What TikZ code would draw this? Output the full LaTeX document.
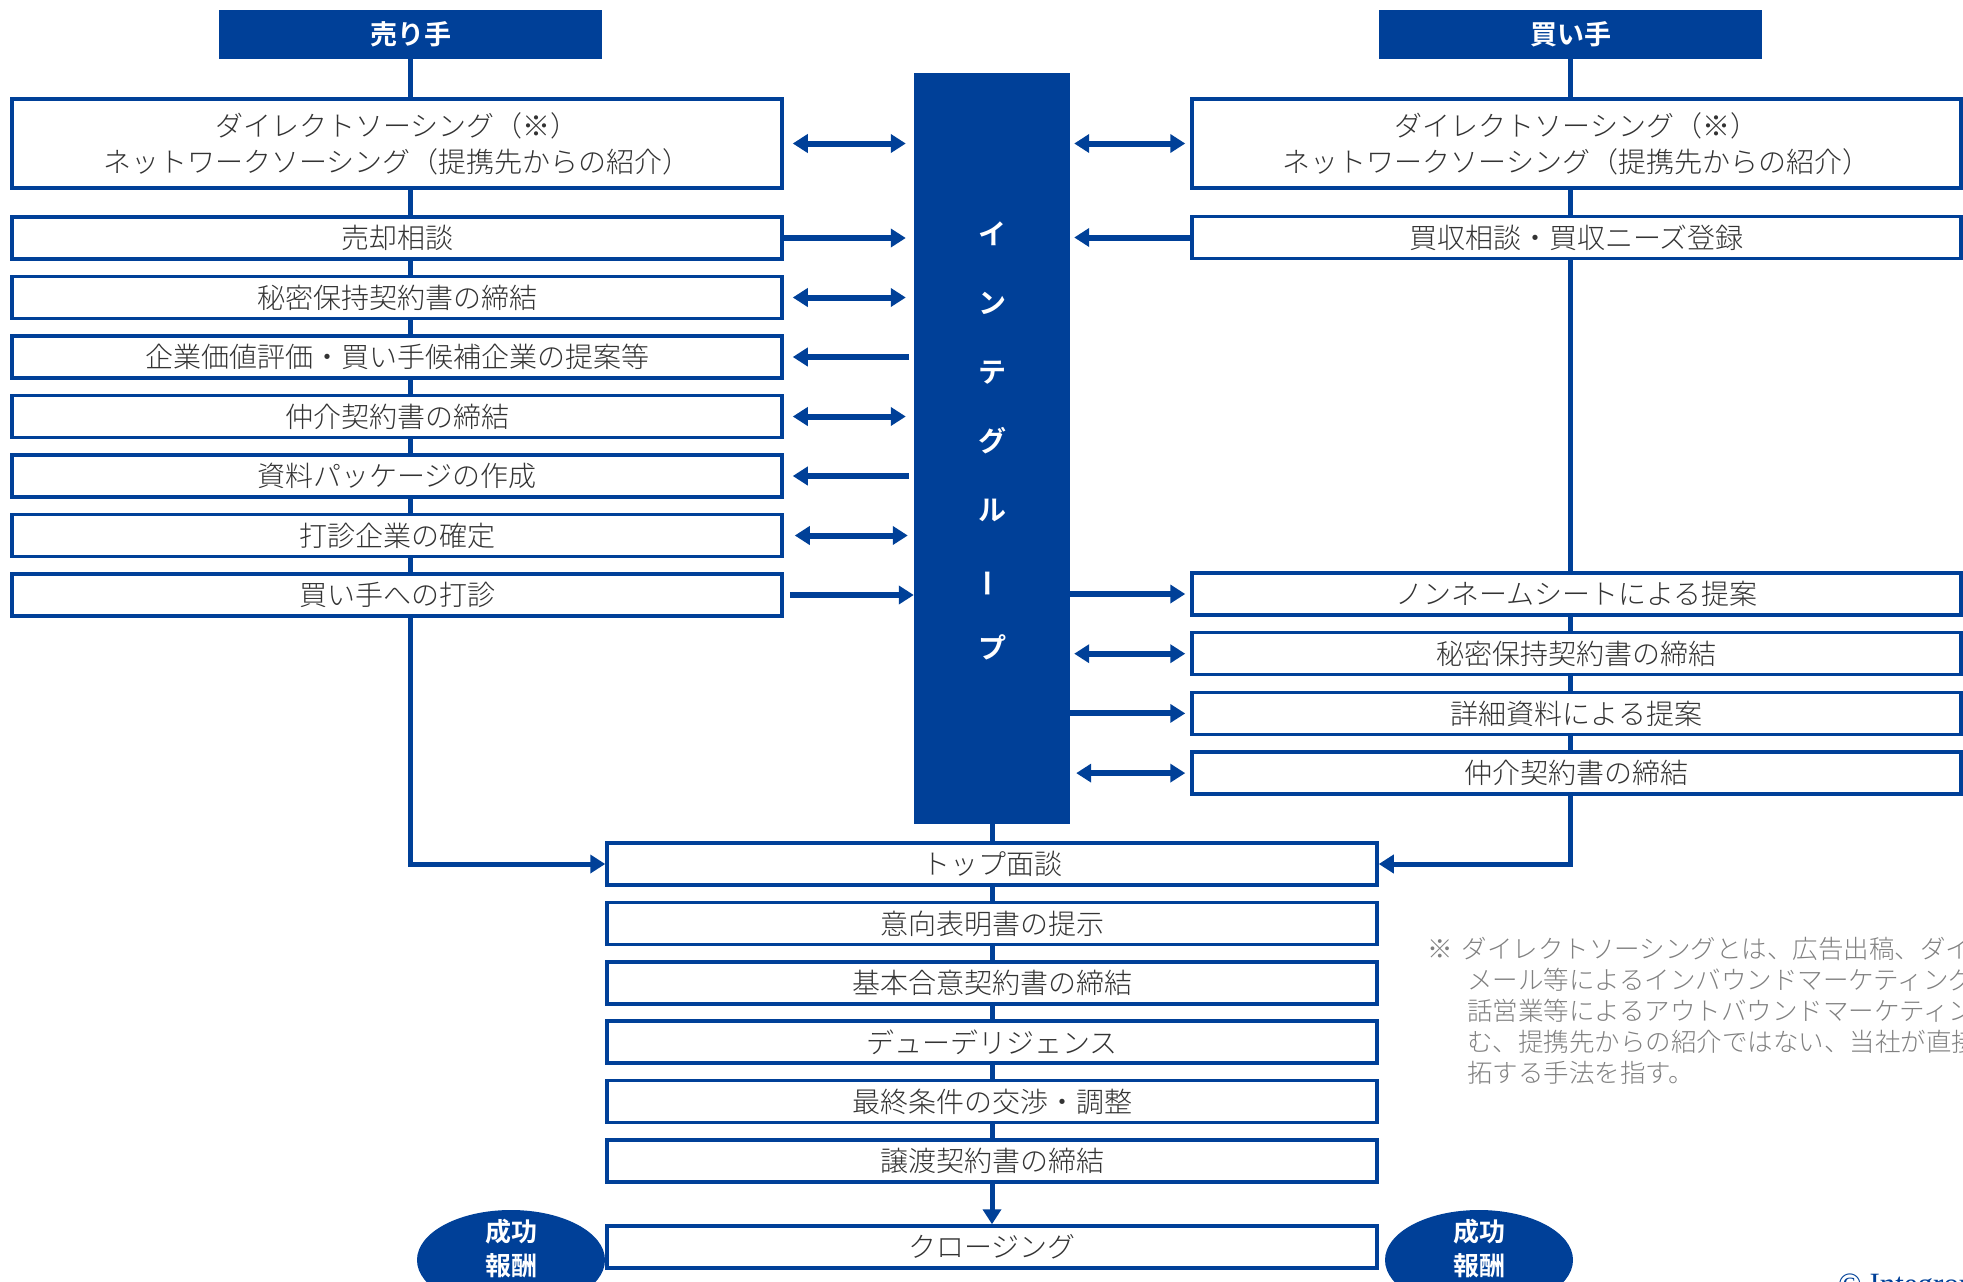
\documentclass[tikz,border=0pt]{standalone}
\usepackage{graphicx}
\usepackage{fontspec}
\setmainfont{Noto Sans CJK JP}[UprightFont={* Light},BoldFont={* Bold}]
\newfontfamily\copyfont{Liberation Serif}
\usetikzlibrary{arrows.meta,shapes.geometric}
\definecolor{igblue}{RGB}{0,64,152}
\definecolor{inkgray}{RGB}{51,51,51}
\definecolor{notegray}{RGB}{128,128,128}

\begin{document}
\begin{tikzpicture}[x=1pt,y=-1pt,
  party/.style={fill=igblue,text=white,minimum width=383pt,minimum height=49pt,inner sep=0pt,font=\fontsize{27}{32}\selectfont\bfseries},
  stage/.style={draw=igblue,line width=3.5pt,fill=white,text=inkgray,minimum width=770pt,minimum height=42pt,inner sep=0pt,font=\fontsize{28}{36}\selectfont},
  hub/.style={fill=igblue,text=white,minimum width=156pt,minimum height=751pt,inner sep=0pt,align=center,text depth=16pt,font=\fontsize{28}{69}\selectfont\bfseries},
  fee/.style={ellipse,fill=igblue,text=white,minimum width=188pt,minimum height=100pt,inner sep=0pt,align=center,text height=40pt,text depth=10pt,font=\fontsize{26}{34}\selectfont\bfseries},
  note/.style={text=notegray,inner sep=0pt,align=left,font=\fontsize{25.5}{31}\selectfont},
  link/.style={draw=igblue,line width=5pt},
  fwd/.style={draw=igblue,line width=6pt,-{Triangle[length=15pt,width=18pt]}},
  rev/.style={draw=igblue,line width=6pt,{Triangle[length=15pt,width=18pt]}-},
  dbl/.style={draw=igblue,line width=6pt,{Triangle[length=15pt,width=18pt]}-{Triangle[length=15pt,width=18pt]}}]
  \useasboundingbox (0,0) rectangle (1963,1282);
  \path[clip] (0,0) rectangle (1963,1282);

  % seller column
  \node[party] (seller) at (410.5,34.5) {売り手};
  \node[stage,minimum height=89pt,align=center] (s1) at (397,143.5) {ダイレクトソーシング（※）\\ネットワークソーシング（提携先からの紹介）};
  \foreach \t [count=\i from 2] in {売却相談,秘密保持契約書の締結,企業価値評価・買い手候補企業の提案等,仲介契約書の締結,資料パッケージの作成,打診企業の確定,買い手への打診}
    \node[stage] (s\i) at (397,{238+59.5*(\i-2)}) {\t};

  % buyer column
  \node[party] (buyer) at (1570.5,34.5) {買い手};
  \node[stage,minimum width=769pt,minimum height=89pt,align=center] (b1) at (1576.5,143.5) {ダイレクトソーシング（※）\\ネットワークソーシング（提携先からの紹介）};
  \node[stage,minimum width=769pt] (b2) at (1576.5,237.5) {買収相談・買収ニーズ登録};
  \foreach \t [count=\i from 3] in {ノンネームシートによる提案,秘密保持契約書の締結,詳細資料による提案,仲介契約書の締結}
    \node[stage,minimum width=769pt] (b\i) at (1576.5,{594+59.7*(\i-3)}) {\t};

  % advisor bar and joint steps
  \node[hub] (ig) at (992,448.5) {イ\\ン\\テ\\グ\\ル\\\rotatebox[origin=c]{90}{ー}\\プ};
  \foreach \t [count=\i] in {トップ面談,意向表明書の提示,基本合意契約書の締結,デューデリジェンス,最終条件の交渉・調整,譲渡契約書の締結}
    \node[stage] (c\i) at (992,{864+59.4*(\i-1)}) {\t};
  \node[stage] (c7) at (992,1247) {クロージング};
  \node[fee] (feeL) at (511,1260) {成功\\報酬};
  \node[fee] (feeR) at (1479,1260) {成功\\報酬};

  \node[note,anchor=north west] (fn) at (1427,937) {※\hspace{9pt}ダイレクトソーシングとは、広告出稿、ダイ\\
    \hspace*{40pt}メール等によるインバウンドマーケティング\\
    \hspace*{40pt}話営業等によるアウトバウンドマーケティン\\
    \hspace*{40pt}む、提携先からの紹介ではない、当社が直接\\
    \hspace*{40pt}拓する手法を指す。};
  \node[anchor=base west,text=igblue,inner sep=0pt,font=\copyfont\fontsize{31}{31}\selectfont] (copyr) at (1838,1294) {© Integroup};

  % vertical flow lines
  \draw[link] (seller.south) -- (seller.south |- s1.north);
  \foreach \i [count=\j from 2] in {1,...,7}
    \draw[link] (seller.south |- s\i.south) -- (seller.south |- s\j.north);
  \draw[link,-{Triangle[length=15pt,width=18pt]}] (seller.south |- s8.south) |- (c1.west);

  \draw[link] (buyer.south) -- (buyer.south |- b1.north);
  \foreach \i [count=\j from 2] in {1,...,5}
    \draw[link] (buyer.south |- b\i.south) -- (buyer.south |- b\j.north);
  \draw[link,-{Triangle[length=15pt,width=18pt]}] (buyer.south |- b6.south) |- (c1.east);

  \draw[link] (ig.south) -- (c1.north);
  \foreach \i [count=\j from 2] in {1,...,5}
    \draw[link] (c\i.south) -- (c\j.north);
  \draw[link,-{Triangle[length=15pt,width=18pt]}] (c6.south) -- (c7.north);

  % seller <-> advisor
  \draw[dbl,shorten <=9pt,shorten >=8pt] (s1.east) -- (ig.west |- s1.east);
  \draw[fwd,shorten >=8pt] (s2.east) -- (ig.west |- s2.east);
  \draw[dbl,shorten <=9pt,shorten >=8pt] (s3.east) -- (ig.west |- s3.east);
  \draw[rev,shorten <=9pt,shorten >=5pt] (s4.east) -- (ig.west |- s4.east);
  \draw[dbl,shorten <=9pt,shorten >=8pt] (s5.east) -- (ig.west |- s5.east);
  \draw[rev,shorten <=9pt,shorten >=5pt] (s6.east) -- (ig.west |- s6.east);
  \draw[dbl,shorten <=11pt,shorten >=6pt] (s7.east) -- (ig.west |- s7.east);
  \draw[fwd,shorten <=6pt] (s8.east) -- (ig.west |- s8.east);

  % advisor <-> buyer
  \draw[dbl,shorten <=4pt,shorten >=5pt] (ig.east |- b1.west) -- (b1.west);
  \draw[rev,shorten <=4pt] (ig.east |- b2.west) -- (b2.west);
  \draw[fwd,shorten >=5pt] (ig.east |- b3.west) -- (b3.west);
  \draw[dbl,shorten <=4pt,shorten >=5pt] (ig.east |- b4.west) -- (b4.west);
  \draw[fwd,shorten >=5pt] (ig.east |- b5.west) -- (b5.west);
  \draw[dbl,shorten <=6pt,shorten >=5pt] (ig.east |- b6.west) -- (b6.west);
\end{tikzpicture}
\end{document}
